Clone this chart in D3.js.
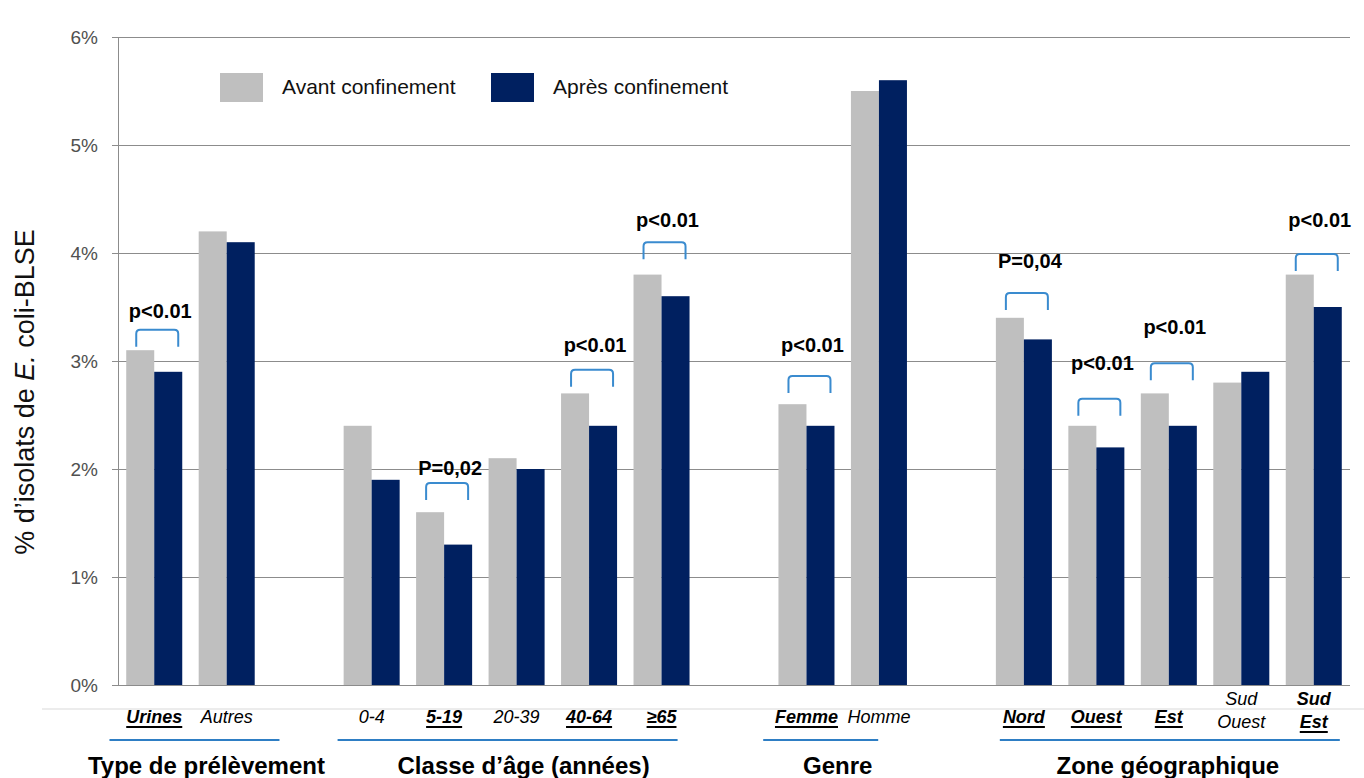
<!DOCTYPE html>
<html lang="fr">
<head>
<meta charset="utf-8">
<script src="https://cdn.jsdelivr.net/npm/d3@7"></script>
<style>
  html, body { margin: 0; padding: 0; background: #fff; }
  svg { display: block; font-family: "Liberation Sans", Arial, sans-serif; }
</style>
</head>
<body>
<svg id="chart" width="1364" height="778"></svg>
<script>
// Categories along the x axis, grouped by stratification variable
const categories = ["Urines", "Autres", "0-4", "5-19", "20-39", "40-64", "≥65",
                    "Femme", "Homme", "Nord", "Ouest", "Est", "Sud Ouest", "Sud Est"];
// % of E. coli-BLSE isolates before / after lockdown
const avantValues = [3.1, 4.2, 2.4, 1.6, 2.1, 2.7, 3.8, 2.6, 5.5, 3.4, 2.4, 2.7, 2.8, 3.8];
const apresValues = [2.9, 4.1, 1.9, 1.3, 2.0, 2.4, 3.6, 2.4, 5.6, 3.2, 2.2, 2.4, 2.9, 3.5];
const seriesNames = ["Avant confinement", "Après confinement"];

const groupTitles = ["Type de prélèvement", "Classe d’âge (années)", "Genre", "Zone géographique"];
const groupMembers = [
  ["Urines", "Autres"],
  ["0-4", "5-19", "20-39", "40-64", "≥65"],
  ["Femme", "Homme"],
  ["Nord", "Ouest", "Est", "Sud Ouest", "Sud Est"]
];

// Significance annotations: category, p-value text, bracket level and text level (in %)
const testCategories = ["Urines", "5-19", "40-64", "≥65", "Femme", "Nord", "Ouest", "Est", "Sud Est"];
const testLabels = ["p<0.01", "P=0,02", "p<0.01", "p<0.01", "p<0.01", "P=0,04", "p<0.01", "p<0.01", "p<0.01"];
const bracketLevels = [3.29, 1.87, 2.92, 4.10, 2.86, 3.63, 2.65, 2.98, 3.99];
const testTextLevels = [3.40, 1.94, 3.08, 4.24, 3.08, 3.86, 2.92, 3.25, 4.24];

const yTicks = [0, 1, 2, 3, 4, 5, 6];

// ---- layout ----
const svg = d3.select("#chart");
const plot = { left: 118, right: 1350, top: 37, bottom: 685 };
const colors = { avant: "#BFBFBF", apres: "#002060", bracket: "#3A8BCF", grid: "#8C8C8C" };
const FONT = "\"Liberation Sans\", Arial, sans-serif";

// Slot list with empty slots separating the groups
const slots = [];
groupMembers.forEach((g, i) => {
  if (i > 0) slots.push("__gap" + i);
  g.forEach(c => slots.push(c));
});

const x = d3.scaleBand().domain(slots).range([plot.left, plot.right])
  .paddingInner(0.227).paddingOuter(0.1135);
const xSeries = d3.scaleBand().domain(["avant", "apres"]).range([0, x.bandwidth()]);
const y = d3.scaleLinear().domain([0, 6]).range([plot.bottom, plot.top]);
const cx = c => x(c) + x.bandwidth() / 2;

// ---- grid & y axis ----
const yAxis = d3.axisLeft(y).tickValues(yTicks).tickFormat(d => d + "%")
  .tickSize(-(plot.right - plot.left)).tickSizeOuter(0).tickPadding(14);
const gy = svg.append("g").attr("transform", `translate(${plot.left},0)`).call(yAxis);
gy.select(".domain").attr("stroke", colors.grid);
gy.selectAll(".tick line").attr("stroke", colors.grid).attr("x1", -6);
gy.selectAll(".tick text").attr("fill", "#505050").attr("font-size", 19)
  .attr("font-family", FONT).attr("x", -20);

// ---- bars ----
const rows = categories.map((c, i) => ({ cat: c, avant: avantValues[i], apres: apresValues[i] }));
const barG = svg.append("g");
["avant", "apres"].forEach(key => {
  barG.selectAll("rect." + key).data(rows).enter().append("rect")
    .attr("class", key)
    .attr("x", d => x(d.cat) + xSeries(key))
    .attr("width", xSeries.bandwidth())
    .attr("y", d => y(d[key]))
    .attr("height", d => y(0) - y(d[key]))
    .attr("fill", colors[key]);
});

// ---- significance brackets ----
const annG = svg.append("g");
testCategories.forEach((c, i) => {
  const mid = cx(c) + 3, half = 21, top = y(bracketLevels[i]), h = 17, r = 4;
  annG.append("path")
    .attr("d", `M${mid - half},${top + h} V${top + r} Q${mid - half},${top} ${mid - half + r},${top}
                H${mid + half - r} Q${mid + half},${top} ${mid + half},${top + r} V${top + h}`)
    .attr("fill", "none").attr("stroke", colors.bracket).attr("stroke-width", 2);
  annG.append("text")
    .attr("x", cx(c) + 6).attr("y", y(testTextLevels[i]))
    .attr("text-anchor", "middle").attr("font-family", FONT)
    .attr("font-size", 20).attr("font-weight", "bold").attr("fill", "#000")
    .text(testLabels[i]);
});

// ---- category labels ----
svg.append("line").attr("x1", 42).attr("x2", 1364).attr("y1", 709).attr("y2", 709)
  .attr("stroke", "#D9D9D9").attr("stroke-width", 1);

const labG = svg.append("g");
categories.forEach(c => {
  const sig = testCategories.includes(c);
  const lines = c.startsWith("Sud ") ? c.split(" ") : [c];
  const base = lines.length > 1 ? 705 : 723;
  lines.forEach((ln, j) => {
    const t = labG.append("text")
      .attr("x", cx(c)).attr("y", base + j * 23)
      .attr("text-anchor", "middle").attr("font-family", FONT)
      .attr("font-size", 18).attr("font-style", "italic")
      .attr("font-weight", sig ? "bold" : "normal").attr("fill", "#000")
      .text(ln);
    if (sig && j === lines.length - 1) {
      const w = t.node().getComputedTextLength();
      labG.append("line")
        .attr("x1", cx(c) - w / 2).attr("x2", cx(c) + w / 2)
        .attr("y1", base + j * 23 + 4).attr("y2", base + j * 23 + 4)
        .attr("stroke", "#000").attr("stroke-width", 2);
    }
  });
});

// ---- group rules & titles ----
const ruleWidths = [170, 340, 115, 340];
const ruleShifts = [4, -9, -22, 1];
const titleShifts = [16, 7, -5, -1];
groupMembers.forEach((g, i) => {
  const gc = (cx(g[0]) + cx(g[g.length - 1])) / 2;
  const rc = gc + ruleShifts[i];
  svg.append("line")
    .attr("x1", rc - ruleWidths[i] / 2).attr("x2", rc + ruleWidths[i] / 2)
    .attr("y1", 740).attr("y2", 740)
    .attr("stroke", "#2E7EC4").attr("stroke-width", 2);
  svg.append("text")
    .attr("x", gc + titleShifts[i]).attr("y", 774)
    .attr("text-anchor", "middle").attr("font-family", FONT)
    .attr("font-size", 24).attr("font-weight", "bold").attr("fill", "#000")
    .text(groupTitles[i]);
});

// ---- y axis title ----
const yt = svg.append("text")
  .attr("transform", "translate(34,392) rotate(-90)")
  .attr("text-anchor", "middle").attr("font-family", FONT)
  .attr("font-size", 27).attr("fill", "#111");
yt.append("tspan").text("% d’isolats de ");
yt.append("tspan").attr("font-style", "italic").text("E.");
yt.append("tspan").text(" coli-BLSE");

// ---- legend ----
const legX = [220, 491];
["avant", "apres"].forEach((key, i) => {
  svg.append("rect").attr("x", legX[i]).attr("y", 73).attr("width", 43).attr("height", 29)
    .attr("fill", colors[key]);
  svg.append("text").attr("x", legX[i] + 62).attr("y", 94)
    .attr("font-family", FONT).attr("font-size", 21).attr("fill", "#111")
    .text(seriesNames[i]);
});
</script>
</body>
</html>
